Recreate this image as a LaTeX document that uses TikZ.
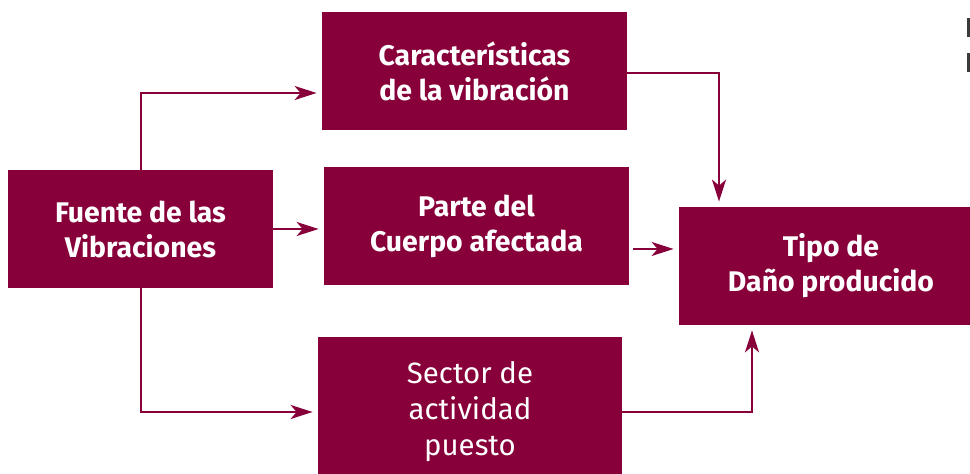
\documentclass[tikz,border=0pt]{standalone}
\usepackage{fontspec}
\setmainfont{Fira Sans}
\usetikzlibrary{arrows.meta,positioning,calc}
\definecolor{vino}{HTML}{87003A}
\definecolor{marca}{HTML}{3A3A3A}
\tikzset{
  caja/.style={rectangle, fill=vino, draw=none, text=white, align=center,
               font=\bfseries\fontsize{14.2}{17.5}\selectfont,
               minimum width=#1, minimum height=59pt, inner sep=0pt},
  flecha/.style={-{Stealth[length=11pt, width=7pt, inset=3pt]}, line width=1pt,
                 draw=vino, shorten >=2.5pt},
}

\begin{document}
\begin{tikzpicture}[x=0.5pt, y=-0.5pt]
    \useasboundingbox (0,0) rectangle (970,474);
    \node[caja=132.5pt] (fuente) at (140.5,229) {Fuente de las\\Vibraciones};
    \node[caja=152.5pt] (carac) at (474.5,71.5) {Características\\de la vibración};
    \node[caja=152.5pt] (parte) at (476.5,226.5) {Parte del\\Cuerpo afectada};
    \node[caja=152pt] (tipo) at (831,266) {Tipo de\\Daño producido};
    \node[caja=152pt, minimum height=75pt, font=\fontsize{14.7}{18}\selectfont] (sector) at (470,412)
      {Sector de\\actividad\\puesto};
    \coordinate (parteSalida) at (633,249);
    \draw[flecha] (fuente.north) |- ($(carac.west)+(0,21.5)$);
    \draw[flecha] (fuente.east) -- (fuente.east -| parte.west);
    \draw[flecha] (fuente.south) |- (sector.west);
    \draw[flecha] ($(carac.east)+(0,1.5)$) -| ($(tipo.north)+(-112,0)$);
    \draw[flecha] (parteSalida) -- (parteSalida -| tipo.west);
    \draw[flecha] (sector.east) -| ($(tipo.south)+(-79,0)$);
    % trozos cortados arriba a la derecha
    \fill[marca] (967,18) rectangle (970,37);
    \fill[marca] (967,53) rectangle (970,72);
  \end{tikzpicture}
\end{document}
